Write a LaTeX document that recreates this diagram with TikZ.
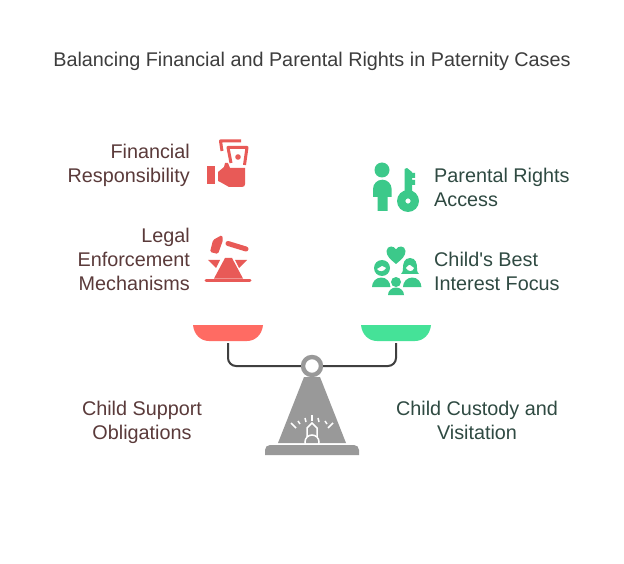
\documentclass[tikz,border=0pt]{standalone}
\usepackage{fontspec}
\setmainfont[Ligatures=TeXOff]{Liberation Sans}
\definecolor{redic}{HTML}{E85A57}
\definecolor{grnic}{HTML}{3CC98A}
\definecolor{panr}{HTML}{FF6B63}
\definecolor{pang}{HTML}{45E298}
\definecolor{basegray}{HTML}{999999}
\definecolor{beamc}{HTML}{3F3F3F}
\definecolor{ltxt}{HTML}{5A3A3A}
\definecolor{rtxt}{HTML}{2F4A42}
\definecolor{ttxt}{HTML}{3D3D3D}
\tikzset{
  lab/.style={inner sep=0pt,font=\fontsize{19.8}{24}\selectfont},
  leftlab/.style={lab,text=ltxt,align=right,anchor=east},
  rightlab/.style={lab,text=rtxt,align=left,anchor=west},
  botleft/.style={lab,text=ltxt,align=center},
  botright/.style={lab,text=rtxt,align=center},
  beam/.style={draw=beamc,line width=2pt,rounded corners=8pt},
  ray/.style={draw=white,line width=1.5pt},
  anchorpt/.style={inner sep=0pt,minimum size=0pt}
}
\begin{document}
\begin{tikzpicture}[x=1pt,y=-1pt]
\useasboundingbox (0,0) rectangle (624,564);
\fill[white] (0,0) rectangle (624,564);
\node[lab,text=ttxt] (title) at (312,61) {Balancing Financial and Parental Rights in Paternity Cases};
\node[leftlab] (fin) at (190,165) {Financial\\Responsibility};
\node[leftlab] (leg) at (190,259.5) {Legal\\Enforcement\\Mechanisms};
\node[rightlab] (par) at (434,187.5) {Parental Rights\\Access};
\node[rightlab] (chi) at (434,271.5) {Child's Best\\Interest Focus};
\node[botleft] (sup) at (142,422) {Child Support\\Obligations};
\node[botright] (cus) at (477,420.5) {Child Custody and\\Visitation};
% pans
\fill[panr] (193,325) -- (263,325) .. controls (262,335) and (255,341) .. (247,341) -- (209,341) .. controls (201,341) and (194,335) .. (193,325) -- cycle;
\fill[pang] (361,325) -- (431,325) .. controls (430,335) and (423,341) .. (415,341) -- (377,341) .. controls (369,341) and (362,335) .. (361,325) -- cycle;
\node[anchorpt] (panL) at (228,343) {};
\node[anchorpt] (panR) at (396,343) {};
% stand
\fill[basegray] (304,377) -- (320,377) -- (346,443) -- (278,443) -- cycle;
\fill[basegray] (265,455) -- (265,450) arc[start angle=180,end angle=270,radius=5] -- (354,445) arc[start angle=270,end angle=360,radius=5] -- (359,455) -- cycle;
\node[circle,draw=basegray,line width=4.4pt,fill=white,minimum size=18pt,inner sep=0pt] (piv) at (312,366) {};
\draw[beam] (panL.center) |- (piv.west);
\draw[beam] (panR.center) |- (piv.east);
% bell on stand
\begin{scope}
\clip (278,377) rectangle (346,443);
\draw[white,line width=1.5pt] (312,442) circle[radius=7];
\end{scope}
\draw[white,line width=1.5pt] (307,437) -- (307,428) -- (312,423) -- (317,428) -- (317,437);
\draw[ray] (291,423) -- (296,428);
\draw[ray] (298,421) -- (300,424);
\draw[ray] (305,418) -- (306,422);
\draw[ray] (312,415) -- (312,421);
\draw[ray] (318,418) -- (319,422);
\draw[ray] (325,421) -- (327,424);
\draw[ray] (333,423) -- (328,428);
% icon financial
\fill[redic] (207,166) rectangle (215,184);
\fill[redic] (218,172) -- (224,167) -- (225,163) -- (228,163) -- (230,168) -- (245,168) -- (245,184) .. controls (245,186) and (244,187) .. (242,187) -- (229,187) -- (222,183) -- (218,181) -- cycle;
\draw[redic,line width=3pt,line join=round] (222,151) -- (220.5,141) -- (241,141);
\draw[redic,line width=3pt,line join=round] (231,163) -- (228,147.5) -- (247,147.5) -- (244.5,165);
\fill[redic] (238,157) circle[radius=2.8];
% icon legal
\fill[redic,rounded corners=1.5pt] (213,240) -- (222,235) -- (223,240) -- (218,254) -- (210,252) -- cycle;
\draw[redic,line width=5pt,line cap=round] (228,243.5) -- (246,249);
\draw[redic,line width=3pt,line cap=round] (206,280.5) -- (250,280.5);
\fill[redic] (225,258) -- (232,258) -- (243,278.5) -- (214,278.5) -- cycle;
\fill[redic] (208,260) -- (220,260) -- (216,268) -- cycle;
\fill[redic] (235,260) -- (247,260) -- (239,268) -- cycle;
% icon parental
\fill[grnic] (382,170) circle[radius=7.5];
\fill[grnic] (373,197) -- (373,189) arc[start angle=180,end angle=360,radius=9.3] -- (391.6,197) -- (387.5,197) -- (387.5,211) -- (377.5,211) -- (377.5,197) -- cycle;
\fill[grnic,even odd rule] (408,201) circle[radius=11] (408,201) circle[radius=2.7];
\fill[grnic] (404.5,192) -- (404.5,169) -- (407,168) -- (412,172) -- (412,173) -- (415,173) -- (415,178) -- (412,178) -- (412,180) -- (415,180) -- (415,185) -- (412,185) -- (412,192) -- cycle;
% icon child
\fill[grnic] (396,264) .. controls (390,259) and (386.5,256) .. (386.5,251) .. controls (386.5,248) and (389,246.5) .. (391,246.5) .. controls (393,246.5) and (395,247.5) .. (396,249.5) .. controls (397,247.5) and (399,246.5) .. (401,246.5) .. controls (403,246.5) and (405.5,248) .. (405.5,251) .. controls (405.5,256) and (402,259) .. (396,264) -- cycle;
\fill[grnic] (382,268) circle[radius=8];
\fill[white] (377,269) .. controls (379,272) and (384,272) .. (386,268) -- (382,266) -- cycle;
\fill[grnic] (410,258) .. controls (404,258) and (403,264) .. (403,268) .. controls (403,272) and (402,273) .. (401,274) -- (419,274) .. controls (418,273) and (417,272) .. (417,268) .. controls (417,264) and (416,258) .. (410,258) -- cycle;
\fill[white] (406,268) .. controls (407,265) and (410,265) .. (410,265) .. controls (411,266) and (413,267) .. (414,268) .. controls (413,272) and (408,272) .. (406,268) -- cycle;
\fill[grnic] (372,287) arc[start angle=180,end angle=360,x radius=9.2,y radius=9.5] -- cycle;
\fill[grnic] (403,287) arc[start angle=180,end angle=360,x radius=9.2,y radius=9.5] -- cycle;
\fill[grnic] (396,282) circle[radius=5];
\fill[grnic] (388,295) arc[start angle=180,end angle=360,x radius=8,y radius=7.5] -- cycle;
\end{tikzpicture}
\end{document}
